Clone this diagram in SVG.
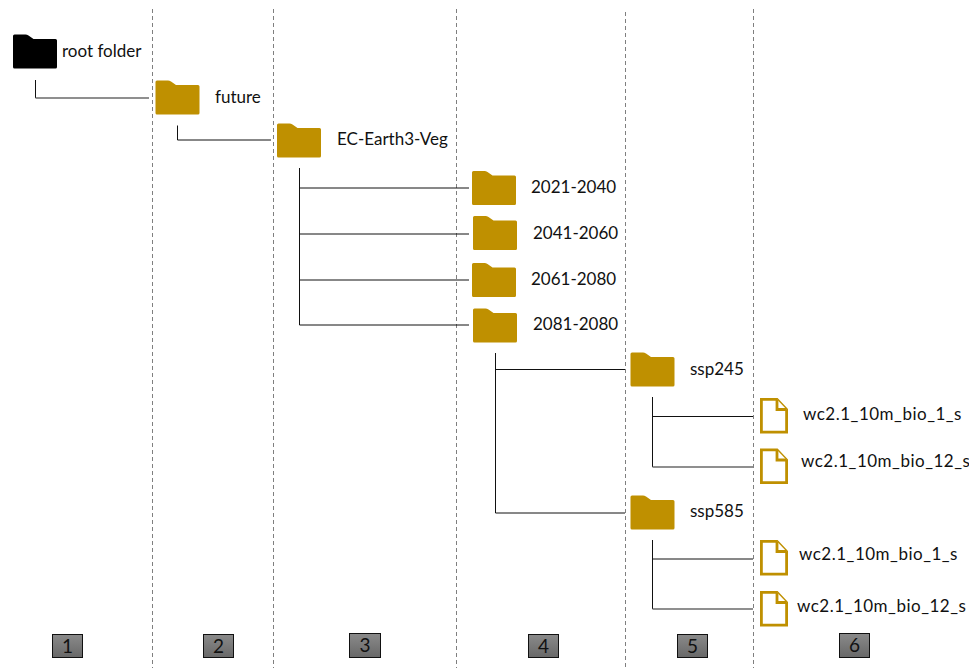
<svg xmlns="http://www.w3.org/2000/svg" width="969" height="672" viewBox="0 0 969 672">
<style>
text{font-family:"Lato","Open Sans",sans-serif;font-size:17px;fill:#111}
.w{letter-spacing:.5px}
.g{fill:#bf9000}
.d{stroke:#7f7f7f;stroke-width:1;stroke-dasharray:4 3;fill:none}
.c{stroke:#111;stroke-width:1;fill:none}
.c2{stroke:#6a6a6a;stroke-width:1.4;fill:none}
.f{fill:#fff;stroke:#bf9000;stroke-width:2.8;stroke-linejoin:miter}
.b{fill:url(#gr);stroke:#111;stroke-width:1}
.n{font-size:19px;text-anchor:middle;fill:#111}
</style>
<defs>
<linearGradient id="gr" x1="0" y1="0" x2="0" y2="1"><stop offset="0" stop-color="#8a8a8a"/><stop offset="1" stop-color="#686868"/></linearGradient>
<path id="fo" d="M1.500 0H12.500Q14 0 15.500 1L20.500 4.500H42.500Q44 4.500 44 6V32.500Q44 34 42.500 34H1.500Q0 34 0 32.500V1.500Q0 0 1.500 0Z"/>
<g id="fi"><path class="f" d="M1.400 1.400H17L26.600 11.500V34.200H1.400Z"/><path class="f" d="M17 1.400V11.500H26.600"/></g>
</defs>
<g id="dividers">
<path class="d" d="M152.500 9V668M273.500 9V668M456.500 9V668M625.500 12V668M753.500 9V668"/>
</g>
<g id="connectors">
<path class="c" d="M35.500 80V98"/><path class="c2" d="M35.500 98H149"/>
<path class="c" d="M177.500 125.500V140H271"/>
<path class="c" d="M299.500 168V325H469M299.500 188H469M299.500 234H469M299.500 280H469"/>
<path class="c" d="M495.500 353V513H625M495.500 369.500H625"/>
<path class="c" d="M652.500 397V467M652.500 416.500H753"/><path class="c2" d="M652.500 467H753"/>
<path class="c" d="M652.500 540V609M652.500 559H753"/><path class="c2" d="M652.500 609H753"/>
</g>
<g id="root"><use href="#fo" x="13" y="34.500"/><text x="62" y="57">root folder</text></g>
<g id="future"><use class="g" href="#fo" x="155.500" y="80.500"/><text x="215" y="103">future</text></g>
<g id="ec-earth"><use class="g" href="#fo" x="277" y="123.500"/><text x="337" y="145">EC-Earth3-Veg</text></g>
<g id="p2021"><use class="g" href="#fo" x="472" y="171"/><text x="531" y="193">2021-2040</text></g>
<g id="p2041"><use class="g" href="#fo" x="473" y="216"/><text x="533" y="239">2041-2060</text></g>
<g id="p2061"><use class="g" href="#fo" x="472" y="263"/><text x="531" y="285">2061-2080</text></g>
<g id="p2081"><use class="g" href="#fo" x="473" y="308.500"/><text x="533" y="330">2081-2080</text></g>
<g id="ssp245"><use class="g" href="#fo" x="630.500" y="352.500"/><text x="690" y="375">ssp245</text></g>
<g id="ssp585"><use class="g" href="#fo" x="630.500" y="495.500"/><text x="690" y="517">ssp585</text></g>
<g id="f1"><use href="#fi" x="760" y="398"/><text class="w" x="803" y="420">wc2.1_10m_bio_1_s</text></g>
<g id="f2"><use href="#fi" x="760" y="448.500"/><text class="w" x="801" y="467">wc2.1_10m_bio_12_s</text></g>
<g id="f3"><use href="#fi" x="760" y="540"/><text class="w" x="799" y="560">wc2.1_10m_bio_1_s</text></g>
<g id="f4"><use href="#fi" x="760" y="591"/><text class="w" x="797" y="612">wc2.1_10m_bio_12_s</text></g>
<g id="n1"><rect class="b" x="52.500" y="634.500" width="30" height="23"/><text class="n" x="67.500" y="653">1</text></g>
<g id="n2"><rect class="b" x="203.500" y="634.500" width="30" height="23"/><text class="n" x="218.500" y="653">2</text></g>
<g id="n3"><rect class="b" x="349.500" y="633.500" width="31" height="24"/><text class="n" x="365" y="652">3</text></g>
<g id="n4"><rect class="b" x="528.500" y="634.500" width="30" height="23"/><text class="n" x="543.500" y="653">4</text></g>
<g id="n5"><rect class="b" x="677.500" y="634.500" width="30" height="23"/><text class="n" x="692.500" y="653">5</text></g>
<g id="n6"><rect class="b" x="839.500" y="633.500" width="30" height="24"/><text class="n" x="854.500" y="652">6</text></g>
</svg>
